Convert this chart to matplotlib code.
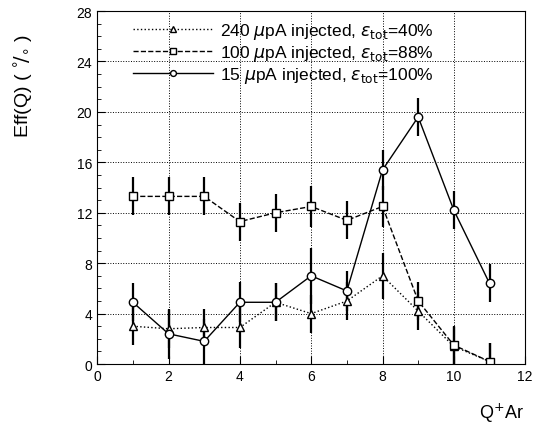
import numpy as np
import matplotlib
matplotlib.use("Agg")
from matplotlib import pyplot as plt
from matplotlib.ticker import MultipleLocator

# data
q = [1, 2, 3, 4, 5, 6, 7, 8, 9, 10, 11]
eff_240 = [3.0, 2.8, 2.9, 2.9, 4.9, 4.0, 5.0, 7.0, 4.2, 1.4, 0.2]
err_240 = [1.5, 1.5, 1.5, 1.6, 1.5, 1.5, 1.5, 1.8, 1.5, 1.5, 1.5]
eff_100 = [13.3, 13.3, 13.3, 11.3, 12.0, 12.5, 11.4, 12.5, 5.0, 1.5, 0.2]
err_100 = [1.5, 1.5, 1.5, 1.5, 1.5, 1.6, 1.5, 1.6, 1.5, 1.5, 1.5]
eff_15 = [4.9, 2.4, 1.8, 4.9, 4.9, 7.0, 5.8, 15.4, 19.6, 12.2, 6.4]
err_15 = [1.5, 2.0, 1.8, 1.6, 1.5, 2.2, 1.6, 1.6, 1.5, 1.5, 1.5]

labels = [r"240 $\mu$pA injected, $\varepsilon_{\rm tot}$=40%",
          r"100 $\mu$pA injected, $\varepsilon_{\rm tot}$=88%",
          r"15 $\mu$pA injected, $\varepsilon_{\rm tot}$=100%"]

plt.rcParams['font.family'] = ['Liberation Sans', 'DejaVu Sans']
plt.rcParams['mathtext.fontset'] = 'dejavusans'

fig = plt.figure(figsize=(5.37, 4.31), dpi=100)
ax = fig.add_axes([0.181, 0.153, 0.797, 0.819])

series = [
    (eff_240, err_240, '^', ':'),
    (eff_100, err_100, 's', '--'),
    (eff_15, err_15, 'o', '-'),
]
handles = []
for (y, e, m, ls), lab in zip(series, labels):
    c = ax.errorbar(q, y, yerr=e, fmt=m, ls=ls, color='black', mfc='white',
                    mec='black', ms=6, lw=1.0, elinewidth=1.6, capsize=0, label=lab)
    handles.append(c[0])

ax.set_xlim(0, 12)
ax.set_ylim(0, 28)
ax.xaxis.set_major_locator(MultipleLocator(2))
ax.xaxis.set_minor_locator(MultipleLocator(1))
ax.yaxis.set_major_locator(MultipleLocator(4))
ax.yaxis.set_minor_locator(MultipleLocator(1))
ax.tick_params(which='both', direction='in', labelsize=10)
ax.tick_params(which='major', length=6)
ax.tick_params(which='minor', length=3)
ax.grid(True, which='major', ls=':', color='black', lw=0.7)

ax.legend(handles, labels, loc='upper right', frameon=False, fontsize=12.5,
          handlelength=4.6, handletextpad=0.4, labelspacing=0.1,
          borderaxespad=0.2, markerscale=0.7, bbox_to_anchor=(0.81, 1.0))

fig.text(0.045, 0.80, r"Eff(Q) ( $^{\circ}\!/_{\circ}$ )", rotation=90,
         fontsize=14, ha='center', va='center')
fig.text(0.975, 0.04, r"Q$^{+}$Ar", fontsize=13, ha='right', va='center')

fig.savefig("out.png", dpi=100)
